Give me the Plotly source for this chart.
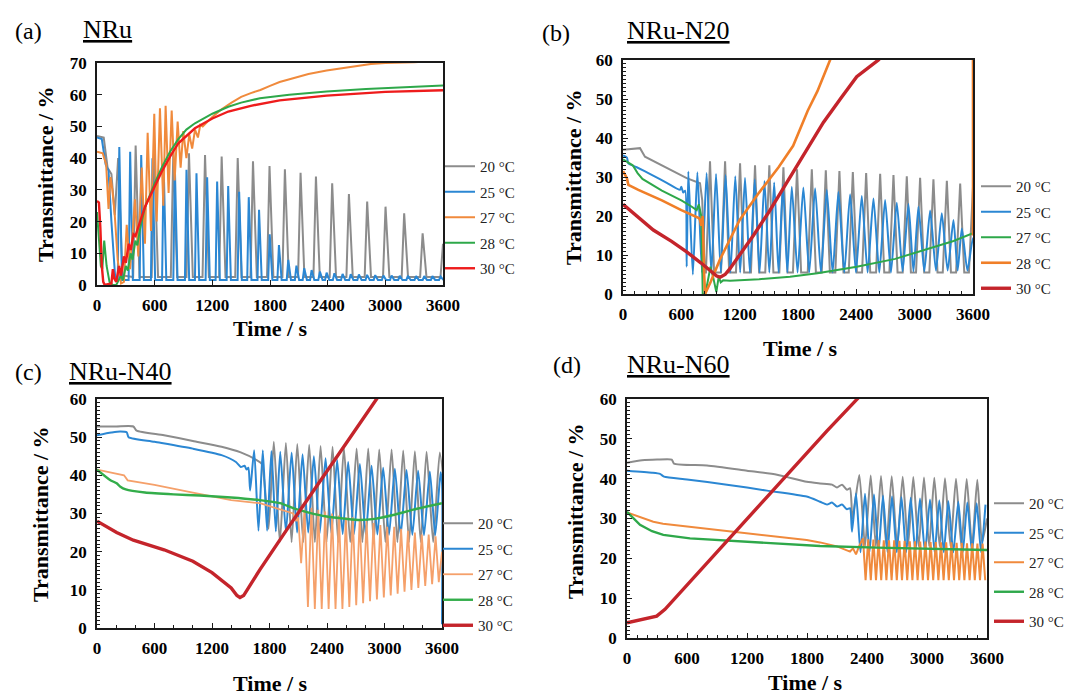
import plotly.graph_objects as go

# The page places the figure 8 px from the top-left corner, so the figure is
# 8 px smaller than the window and every layout pixel is measured from there.
OFF = 8
W, H = 1074 - OFF, 697 - OFF
SERIF = "Liberation Serif"

TEMPS = ["20 °C", "25 °C", "27 °C", "28 °C", "30 °C"]

# ---------------- Panel (a) NRu ----------------
A20_head_t = [0, 70, 110, 150, 185, 220, 265]
A20_head_v = [47, 46.5, 37, 35, 22, 40, 3]
A20_peak_t = [402, 595, 794, 957, 1124, 1297, 1464, 1623, 1795, 1955, 2118, 2278, 2447, 2621, 2811, 3002, 3196, 3388, 3600]
A20_peak_v = [44, 43, 42, 41.5, 41, 40.5, 40, 39, 37.5, 36.5, 35.4, 34.2, 32.1, 28.7, 26.3, 24.7, 22.6, 16.3, 13]
A20_base = 2.5

A25_head_t = [0, 50, 90, 120, 150, 190, 205]
A25_head_v = [46.5, 46, 38, 36, 20, 2, 1.5]
A25_peak_t = [232, 345, 460, 577, 693, 810, 931, 1035, 1146, 1250, 1365, 1479, 1579, 1686, 1797, 1893, 1990,
              2075, 2156, 2233, 2319, 2389, 2470, 2555, 2640, 2725, 2810, 2895, 2980, 3065, 3150, 3235, 3320,
              3405, 3490, 3575]
A25_peak_v = [43.5, 42, 41, 40, 38.5, 37.3, 36.3, 35.2, 34, 32.6, 31.2, 29.4, 27.7, 23.7, 16, 12.6, 7.9,
              6.1, 5.3, 4.7, 4.2, 3.9, 3.7, 3.5, 3.4, 3.3, 3.2, 3.1, 3.0, 3.0, 2.9, 2.9, 2.8,
              2.8, 2.8, 2.7]
A25_base = 1.6

A27_t = [0, 60, 95, 120, 140, 160, 185, 215, 250, 280, 309, 343, 395, 430, 465, 499, 527, 562, 596, 621,
         655, 690, 714, 745, 777, 808, 839, 870, 898, 930, 960, 990, 1020, 1050, 1075, 1100, 1200, 1300,
         1400, 1500, 1600, 1700, 1800, 1900, 2041, 2200, 2389, 2600, 2735, 2850, 3000, 3300, 3600]
A27_v = [42, 41.5, 38, 24, 34, 30, 22, 8, 0.5, 1, 19, 5, 27, 9, 37, 13, 48, 17, 54, 20,
         55.7, 25, 56.5, 29, 55, 33, 51.5, 37, 48.5, 40, 47.5, 43, 49, 46.5, 50.5, 50, 53, 55.5,
         57.5, 59.3, 60.5, 61.5, 62.8, 64, 65.2, 66.5, 67.6, 68.6, 69.1, 69.7, 70, 70.2, 71]

A28_t = [0, 20, 40, 55, 75, 100, 130, 160, 200, 250, 270, 300, 320, 350, 370, 400, 420, 450, 499, 600,
         673, 760, 846, 930, 1019, 1200, 1366, 1500, 1695, 2000, 2389, 2800, 3200, 3600]
A28_v = [23, 15, 6, 5, 14, 6, 1, 0, 0, 3, 1.5, 6, 4.5, 10, 8, 14, 12.5, 18, 24.5, 32,
         37, 42, 46, 49, 51, 54, 56.2, 57.5, 58.9, 60, 61, 61.8, 62.4, 62.9]

A30_t = [0, 20, 35, 50, 65, 80, 150, 165, 180, 200, 230, 250, 280, 300, 330, 350, 380, 400, 500, 600,
         673, 760, 846, 1019, 1200, 1366, 1600, 1900, 2389, 3000, 3600]
A30_v = [26.5, 26, 18, 6, 1, 0, 0.5, 5, 2, 1, 6, 3, 9, 7, 13, 11, 16, 15.5, 24.7, 31,
         35.7, 40.5, 44.7, 49.4, 52.5, 54.7, 56.5, 58.2, 59.7, 60.9, 61.4]

# ---------------- Panel (b) NRu-N20 ----------------
B20_head_t = [0, 175, 226, 400, 655, 792, 815, 840]
B20_head_v = [37, 37.4, 35.2, 33, 29.7, 28.4, 24, 5.5]
B20_peak_t = [895, 1050, 1204, 1358, 1505, 1650, 1790, 1942, 2086, 2226, 2364, 2501, 2645, 2782, 2919,
              3056, 3193, 3331, 3468, 3600]
B20_peak_v = [34, 34, 33.5, 33, 33, 32.5, 32, 32, 31.7, 31.5, 31.3, 31, 30.8, 30.5, 30.2,
              29.8, 29.4, 29, 28.3, 27.5]
B20_base = 5.5

B25_head_t = [0, 40, 55, 141, 300, 450, 586, 600, 620, 640, 655]
B25_head_v = [35.5, 35, 33.5, 32.5, 30.5, 28.5, 26.7, 27.5, 26, 26.5, 7]
B25_peak_t = [672, 765, 860, 957, 1055, 1155, 1255, 1355, 1455, 1555, 1645, 1736, 1855, 1976, 2096, 2216,
              2336, 2456, 2576, 2696, 2816, 2936, 3039, 3159, 3279, 3399, 3485, 3600]
B25_peak_v = [31.4, 31.2, 31, 30.8, 30.5, 30.2, 29.8, 29.4, 29, 28.6, 28, 27.5, 27.3, 27.1, 26.7, 26.2,
              25.6, 25.1, 24.5, 24.1, 23.4, 23.1, 22.4, 21.4, 20.7, 19, 16.8, 14.3]
B25_trough_v = [5, 5.5, 5.5, 5.5, 5.5, 5.5, 5.5, 5.5, 5.5, 5.5, 5.5, 5.5, 5.5, 5.5, 5.5, 5.5,
                5.5, 5.5, 5.5, 5.5, 5.8, 5.8, 5.8, 6, 6, 6, 6, 6]

B27_t = [0, 100, 150, 200, 400, 600, 700, 758, 780, 805, 820, 845, 870, 900, 930, 960, 985, 1005, 1030,
         1100, 1400, 1718, 2000, 2404, 2800, 3090, 3400, 3600]
B27_v = [34.5, 33, 31, 29.5, 26.5, 24, 22.5, 21.5, 23, 20, 0, 0, 3, 7, 4, 0.5, 4.5, 3, 3.5,
         3.4, 3.8, 4.4, 5.3, 7, 9, 11.3, 13.6, 15.6]

B28_t = [0, 40, 55, 158, 400, 600, 780, 792, 805, 820, 835, 844, 900, 1000, 1200, 1400, 1600, 1750, 1900,
         2000, 2130, 2250, 3600, 3600]
B28_v = [31.5, 29.7, 28, 26.7, 24, 21.5, 19.5, 19, 17.5, 20, 5, 0, 3, 9, 19, 26, 32.5, 38, 47,
         52, 60, 66, 66, 15]

B30_t = [0, 150, 312, 500, 655, 800, 964, 1000, 1050, 1100, 1341, 1500, 1718, 1958, 2061, 2250, 2404,
         2627, 2700]
B30_v = [23, 19.8, 16.4, 13.5, 10.8, 8, 4.6, 4.3, 5, 6.5, 15, 21, 30, 39.5, 44, 50.5, 55.7, 60, 62]

# ---------------- Panel (c) NRu-N40 ----------------
C20_head_t = [0, 200, 379, 413, 700, 1000, 1300, 1500, 1666, 1720, 1790]
C20_head_v = [52.8, 52.8, 52.8, 51.7, 50.5, 49, 47.5, 46, 44, 43, 26]
C20_peak_t = [1845, 1971, 2090, 2214, 2333, 2458, 2576, 2709, 2830, 2945, 3074, 3195, 3317, 3439, 3577]
C20_peak_v = [48.8, 48.5, 48.2, 48, 47.7, 47.5, 47.2, 47, 47, 46.8, 46.8, 46.5, 46.3, 46.2, 46]
C20_trough_v = [22.5, 22.5, 22.5, 22.5, 22.5, 22.5, 22.5, 22.5, 22.5, 22.5, 22.5, 22.5, 22.5, 22.5, 30]

C25_head_t = [0, 150, 240, 310, 330, 600, 1000, 1300, 1450, 1500, 1540, 1561, 1580, 1598]
C25_head_v = [50.5, 51.2, 51.5, 51.3, 50, 48.8, 47, 45.3, 43.5, 42.2, 42.5, 41.5, 42, 36]
C25_peak_t = [1640, 1730, 1820, 1912, 2031, 2145, 2263, 2385, 2506, 2621, 2743, 2865, 2986, 3108, 3230,
              3351, 3473, 3585]
C25_peak_v = [46.6, 46.6, 46.4, 46.2, 46, 45.5, 45, 44.5, 44, 43.5, 43, 42.5, 42, 41.7, 41.4,
              41.2, 41, 40.8]
C25_trough_v = [25.5, 25.5, 25.3, 25.2, 25, 25, 24.8, 24.8, 24.6, 24.6, 24.5, 24.5, 24.4, 24.4, 24.4,
                24.3, 24.3]
C25_tail_t = [3600, 3600]
C25_tail_v = [38, 1]

C27_head_t = [0, 150, 282, 320, 600, 1000, 1400, 1700, 1900, 2047, 2080, 2100, 2130]
C27_head_v = [41.5, 40.8, 40, 38.7, 37.5, 35.5, 33.5, 32.7, 31.2, 30, 28, 29, 17]
C27_peak_t = [2165, 2237, 2309, 2381, 2453, 2525, 2597, 2669, 2741, 2813, 2885, 2957, 3029, 3101, 3173,
              3245, 3317, 3389, 3461, 3533, 3600]
C27_peak_v = [31, 31.5, 31, 30.5, 30, 29.5, 29, 29, 28.5, 28, 27.5, 27, 26.5, 26.5, 26,
              25.5, 25, 24.5, 24.5, 24, 20]
C27_trough_v = [5.5, 5, 5, 5, 5, 5, 5.5, 6, 6.5, 7, 7.5, 8, 8.5, 9, 9.5,
                10, 10.5, 11, 11.5, 12]

C28_t = [0, 136, 205, 240, 300, 500, 800, 1074, 1400, 1700, 1909, 2047, 2200, 2396, 2600, 2743, 2900,
         3090, 3300, 3600]
C28_v = [41.5, 38.8, 37.9, 37.1, 36.3, 35.5, 35, 34.7, 34.2, 33.5, 32.7, 31.4, 30.3, 29.2, 28.6, 28.3,
         28.6, 29.6, 31, 32.7]

C30_t = [0, 100, 205, 379, 700, 1000, 1200, 1400, 1460, 1492, 1530, 1600, 1700, 2000, 2300, 2600, 2917,
         3000]
C30_v = [28, 26.5, 25, 23, 20.5, 17.5, 14.5, 10.5, 8.5, 8, 8.5, 11.3, 15.3, 26.5, 37.5, 48.5, 60, 63]

# ---------------- Panel (d) NRu-N60 ----------------
D20_head_t = [0, 150, 300, 447, 470, 800, 1200, 1500, 1797, 1930, 2050, 2100, 2150, 2200, 2230, 2255]
D20_head_v = [44, 44.6, 44.8, 44.8, 43.8, 43.3, 42, 41, 39.2, 38.8, 38.5, 37.8, 38.5, 37.2, 37.6, 30]
D20_peak_t = [2323, 2437, 2540, 2647, 2757, 2863, 2970, 3073, 3180, 3290, 3397, 3503]
D20_peak_v = [40.9, 40.8, 40.7, 40.6, 40.5, 40.4, 40.3, 40.2, 40.1, 40, 39.9, 39.7]
D20_trough_v = [23, 23, 23, 23, 23, 23, 23, 23, 23, 23, 23]
D20_tail_t = [3550, 3600]
D20_tail_v = [24, 30]

D25_head_t = [0, 250, 330, 370, 600, 1000, 1400, 1797, 1930, 2000, 2050, 2100, 2150, 2200, 2230, 2250]
D25_head_v = [42, 41.5, 41.2, 40.5, 39.8, 38.5, 37, 35.5, 34.2, 33.5, 34, 33, 33.5, 32.3, 32.6, 26.7]
D25_peak_t = [2290, 2380, 2470, 2560, 2650, 2745, 2837, 2930, 3030, 3123, 3213, 3313, 3403, 3497, 3585]
D25_peak_v = [36.3, 36.2, 36, 35.8, 35.6, 35.4, 35.2, 35, 34.8, 34.6, 34.4, 34.2, 34, 33.8, 33.5]
D25_trough_v = [21.5, 21.5, 21.5, 21.5, 21.5, 21.5, 21.5, 21.5, 21.5, 21.5, 21.5, 21.5, 21.5, 21.5]

D27_head_t = [0, 263, 360, 600, 1000, 1400, 1797, 1930, 2100, 2230, 2260, 2290, 2320]
D27_head_v = [31.5, 29.2, 28.7, 28, 27, 25.8, 24.6, 24, 23, 21.7, 22.5, 21, 23]
D27_peak_t = [2360, 2412, 2464, 2516, 2568, 2620, 2672, 2724, 2776, 2828, 2880, 2932, 2984, 3036, 3088,
              3140, 3192, 3244, 3296, 3348, 3400, 3452, 3504, 3556]
D27_peak_v = [25, 24.8, 24.7, 24.6, 24.5, 24.5, 24.5, 24.4, 24.4, 24.3, 24.3, 24.2, 24.2, 24.1, 24.1,
              24, 24, 24, 23.9, 23.9, 23.8, 23.8, 23.7, 23.7]
D27_trough_v = [14.5, 14.5, 14.5, 14.5, 14.5, 14.5, 14.5, 14.5, 14.5, 14.5, 14.5, 14.5, 14.5, 14.5, 14.5,
                14.5, 14.5, 14.5, 14.5, 14.5, 14.5, 14.5, 14.5, 14.5]

D28_t = [0, 130, 250, 363, 630, 1130, 1797, 1930, 2500, 3000, 3600]
D28_v = [31.7, 28.4, 26.8, 25.9, 25, 24.2, 23.3, 23.1, 22.7, 22.4, 22.1]

D30_t = [0, 130, 297, 380, 463, 797, 1130, 1463, 1797, 2000, 2310, 2400]
D30_v = [3.8, 4.5, 5.5, 7.2, 9.5, 18.7, 28, 37.2, 46.4, 52, 60.2, 63]

# colours
GRAY = "#8c8c8c"
BLUE = "#2b87d3"
ORANGE = "#f08a3c"
GREEN = "#2ea84a"
RED_A = "#ee1c1c"
RED = "#c4242b"
ORANGE_L = "#f5a06a"


def spikes(head_t, head_v, peak_t, peak_v, base, w1, w2):
    xs, ys = list(head_t), list(head_v)
    for t, v in zip(peak_t, peak_v):
        xs += [t - w1, t, t + w2]
        ys += [base, v, base]
    return xs, ys


def osc(head_t, head_v, peak_t, peak_v, trough_v, tail_t=(), tail_v=()):
    xs, ys = list(head_t), list(head_v)
    n = len(peak_t)
    for i in range(n):
        xs.append(peak_t[i])
        ys.append(peak_v[i])
        if i < len(trough_v):
            nxt = peak_t[i + 1] if i + 1 < n else peak_t[i] + (peak_t[i] - peak_t[i - 1])
            xs.append((peak_t[i] + nxt) / 2)
            ys.append(trough_v[i])
    xs += list(tail_t)
    ys += list(tail_v)
    return xs, ys


fig = go.Figure()


def add(x, y, color, name, panel, width=2.0, shape="linear"):
    ax = "" if panel == 1 else str(panel)
    fig.add_trace(go.Scatter(
        x=x, y=y, mode="lines", name=name,
        line=dict(color=color, width=width, shape=shape, smoothing=0.6),
        xaxis="x" + ax, yaxis="y" + ax,
        legend="legend" if panel == 1 else "legend" + ax,
        legendgroup="p%d_%s" % (panel, name),
        hoverinfo="skip",
    ))


# panel a
x, y = spikes(A20_head_t, A20_head_v, A20_peak_t, A20_peak_v, A20_base, 26, 40)
add(x, y, GRAY, TEMPS[0], 1)
x, y = spikes(A25_head_t, A25_head_v, A25_peak_t, A25_peak_v, A25_base, 16, 28)
add(x, y, BLUE, TEMPS[1], 1)
add(A27_t, A27_v, ORANGE, TEMPS[2], 1)
add(A28_t, A28_v, GREEN, TEMPS[3], 1)
add(A30_t, A30_v, RED_A, TEMPS[4], 1, width=2.4)

# panel b
x, y = spikes(B20_head_t, B20_head_v, B20_peak_t, B20_peak_v, B20_base, 42, 42)
add(x, y, GRAY, TEMPS[0], 2)
x, y = osc(B25_head_t, B25_head_v, B25_peak_t, B25_peak_v, B25_trough_v)
add(x, y, BLUE, TEMPS[1], 2, shape="spline")
add(B27_t, B27_v, GREEN, TEMPS[2], 2)
add(B28_t, B28_v, "#f07f28", TEMPS[3], 2, width=2.6)
add(B30_t, B30_v, RED, TEMPS[4], 2, width=3.4)

# panel c
x, y = osc(C20_head_t, C20_head_v, C20_peak_t, C20_peak_v, C20_trough_v)
add(x, y, GRAY, TEMPS[0], 3, shape="spline")
x, y = osc(C25_head_t, C25_head_v, C25_peak_t, C25_peak_v, C25_trough_v, C25_tail_t, C25_tail_v)
add(x, y, BLUE, TEMPS[1], 3, shape="spline")
x, y = osc(C27_head_t, C27_head_v, C27_peak_t, C27_peak_v, C27_trough_v)
add(x, y, ORANGE_L, TEMPS[2], 3, width=1.8)
add(C28_t, C28_v, "#33ad4a", TEMPS[3], 3, width=2.4, shape="spline")
add(C30_t, C30_v, RED, TEMPS[4], 3, width=3.4)

# panel d
x, y = osc(D20_head_t, D20_head_v, D20_peak_t, D20_peak_v, D20_trough_v, D20_tail_t, D20_tail_v)
add(x, y, GRAY, TEMPS[0], 4, shape="spline")
x, y = osc(D25_head_t, D25_head_v, D25_peak_t, D25_peak_v, D25_trough_v)
add(x, y, BLUE, TEMPS[1], 4, shape="spline")
x, y = osc(D27_head_t, D27_head_v, D27_peak_t, D27_peak_v, D27_trough_v)
add(x, y, ORANGE, TEMPS[2], 4)
add(D28_t, D28_v, GREEN, TEMPS[3], 4, width=2.4)
add(D30_t, D30_v, RED, TEMPS[4], 4, width=3.4)


def px(v):
    return (v - OFF) / W


def py(v):
    return 1 - (v - OFF) / H


TICKFONT = dict(family=SERIF, size=17, color="black", weight="bold")


def xax(l, r, anchor, minor_dtick=None, standoff=4):
    d = dict(domain=[px(l), px(r)], range=[0, 3600], dtick=600, tick0=0, anchor=anchor,
             showline=True, linecolor="#1a1a1a", linewidth=1.6, mirror=True,
             ticks="inside", ticklen=5, tickwidth=1.3, tickcolor="#1a1a1a",
             showgrid=False, zeroline=False, tickfont=TICKFONT, ticklabelstandoff=standoff)
    if minor_dtick:
        d["minor"] = dict(dtick=minor_dtick, ticks="inside", ticklen=3, tickwidth=1.1,
                          tickcolor="#1a1a1a", showgrid=False)
    return d


def yax(t, b, anchor, top, minor_dtick=None):
    d = dict(domain=[py(b), py(t)], range=[0, top], dtick=10, tick0=0, anchor=anchor,
             showline=True, linecolor="#1a1a1a", linewidth=1.6, mirror=True,
             ticks="inside", ticklen=5, tickwidth=1.3, tickcolor="#1a1a1a",
             showgrid=False, zeroline=False, tickfont=TICKFONT, ticklabelstandoff=5)
    if minor_dtick:
        d["minor"] = dict(dtick=minor_dtick, ticks="inside", ticklen=3, tickwidth=1.1,
                          tickcolor="#1a1a1a", showgrid=False)
    return d


LEGFONT = dict(family=SERIF, size=15, color="#222222")


def leg(xp, yp, gap):
    return dict(x=px(xp), y=py(yp), xanchor="left", yanchor="top", font=LEGFONT,
                bgcolor="rgba(0,0,0,0)", borderwidth=0, tracegroupgap=gap, itemwidth=30,
                traceorder="grouped")


annotations = []


def text(xp, yp, s, size, bold=False, angle=0):
    annotations.append(dict(
        x=px(xp), y=py(yp), xref="paper", yref="paper", text=s, showarrow=False,
        textangle=angle, xanchor="center", yanchor="middle",
        font=dict(family=SERIF, size=size, color="black", weight="bold" if bold else "normal")))


# panel labels and titles
text(28, 31, "(a)", 24)
text(107, 29, "<u>NRu</u>", 26)
text(556, 33, "(b)", 24)
text(678, 31, "<u>NRu-N20</u>", 26)
text(28, 372, "(c)", 24)
text(120, 371, "<u>NRu-N40</u>", 26)
text(567, 365, "(d)", 24)
text(678, 364, "<u>NRu-N60</u>", 26)

# axis titles
for (xp, yp) in [(45, 174), (574, 177), (40, 514), (575, 511)]:
    text(xp, yp, "Transmittance / %", 22, bold=True, angle=-90)
for (xp, yp) in [(270, 328), (800, 348), (270, 683), (805, 682)]:
    text(xp, yp, "Time / s", 22, bold=True)

fig.update_layout(
    width=W, height=H,
    margin=dict(l=0, r=0, t=0, b=0, autoexpand=False),
    paper_bgcolor="white", plot_bgcolor="white",
    showlegend=True,
    xaxis=xax(97, 443, "y"),
    yaxis=yax(63, 285, "x", 70),
    xaxis2=xax(623, 973, "y2", 120),
    yaxis2=yax(60, 294, "x2", 60, 1),
    xaxis3=xax(97, 442, "y3", 200),
    yaxis3=yax(399, 628, "x3", 60, 1),
    xaxis4=xax(627, 987, "y4", 100),
    yaxis4=yax(399, 638, "x4", 60, 1),
    legend=leg(440, 150, 3),
    legend2=leg(976, 170, 3),
    legend3=leg(438, 507, 3),
    legend4=leg(989, 487, 7),
    annotations=annotations,
)

fig.write_html("out.html")
